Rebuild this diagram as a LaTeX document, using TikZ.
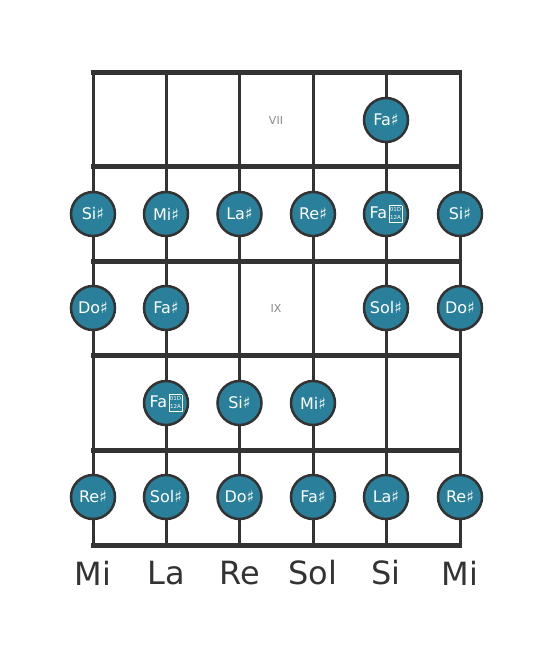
\documentclass[tikz,border=0pt]{standalone}
\usepackage{fontspec}
\setmainfont{DejaVu Sans}
\definecolor{notefill}{HTML}{2A7F9B}
\definecolor{inkgray}{HTML}{333333}
\definecolor{fretlabel}{HTML}{888888}
\newcommand{\dblsharp}{\hspace{1.5pt}\raisebox{-1.2pt}{\fontsize{5.5}{7}\selectfont\setlength{\fboxsep}{0.8pt}\setlength{\fboxrule}{0.4pt}\fbox{\begin{tabular}[b]{@{}c@{}}01D\\[1pt]12A\end{tabular}}}}
\tikzset{
  note/.style={circle, draw=inkgray, line width=2.5pt, fill=notefill, minimum size=44pt,
    inner sep=0pt, text=white, font=\fontsize{16}{16}\selectfont},
  fretline/.style={draw=inkgray, line width=5pt},
  stringline/.style={draw=inkgray, line width=3pt},
  tuning/.style={text=inkgray, font=\fontsize{32}{32}\selectfont},
  position/.style={text=fretlabel, font=\fontsize{11}{11}\selectfont}
}
\begin{document}
\begin{tikzpicture}[x=1pt, y=-1pt]
      \useasboundingbox (0,0) rectangle (553,656);
      %
      \draw[stringline](93,72) -- (93,545);   % strings
      \draw[stringline](166,72) -- (166,545);
      \draw[stringline](239.5,72) -- (239.5,545);
      \draw[stringline](313,72) -- (313,545);
      \draw[stringline](386,72) -- (386,545);
      \draw[stringline](460,72) -- (460,545);
      %
      \draw[fretline](91,72) -- (462,72);     % frets
      \draw[fretline](91,166.5) -- (462,166.5);
      \draw[fretline](91,261) -- (462,261);
      \draw[fretline](91,355.5) -- (462,355.5);
      \draw[fretline](91,450) -- (462,450);
      \draw[fretline](91,545) -- (462,545);
      %
      \node[position] (vii) at (276,120) {VII}; % fret numbers
      \node[position] (ix) at (276,308) {IX};
      %
      \node[note] (r1s5) at (386,120) {Fa♯};  % first row
      %%
      \node[note] (r2s1) at (93,214) {Si♯};   % second row
      \node[note] (r2s2) at (166,214) {Mi♯};
      \node[note] (r2s3) at (239.5,214) {La♯};
      \node[note] (r2s4) at (313,214) {Re♯};
      \node[note] (r2s5) at (386,214) {Fa\dblsharp};
      \node[note] (r2s6) at (460,214) {Si♯};
      %%
      \node[note] (r3s1) at (93,308) {Do♯};   % third row
      \node[note] (r3s2) at (166,308) {Fa♯};
      \node[note] (r3s5) at (386,308) {Sol♯};
      \node[note] (r3s6) at (460,308) {Do♯};
      %%
      \node[note] (r4s2) at (166,403) {Fa\dblsharp}; % fourth row
      \node[note] (r4s3) at (239.5,403) {Si♯};
      \node[note] (r4s4) at (313,403) {Mi♯};
      %%
      \node[note] (r5s1) at (93,497) {Re♯};   % fifth row
      \node[note] (r5s2) at (166,497) {Sol♯};
      \node[note] (r5s3) at (239.5,497) {Do♯};
      \node[note] (r5s4) at (313,497) {Fa♯};
      \node[note] (r5s5) at (386,497) {La♯};
      \node[note] (r5s6) at (460,497) {Re♯};
      %
      \node[tuning] (t1) at (93,573) {Mi};    % open strings
      \node[tuning] (t2) at (166,573) {La};
      \node[tuning] (t3) at (239.5,573) {Re};
      \node[tuning] (t4) at (313,573) {Sol};
      \node[tuning] (t5) at (386,573) {Si};
      \node[tuning] (t6) at (460,573) {Mi};
      %
    \end{tikzpicture}
\end{document}
